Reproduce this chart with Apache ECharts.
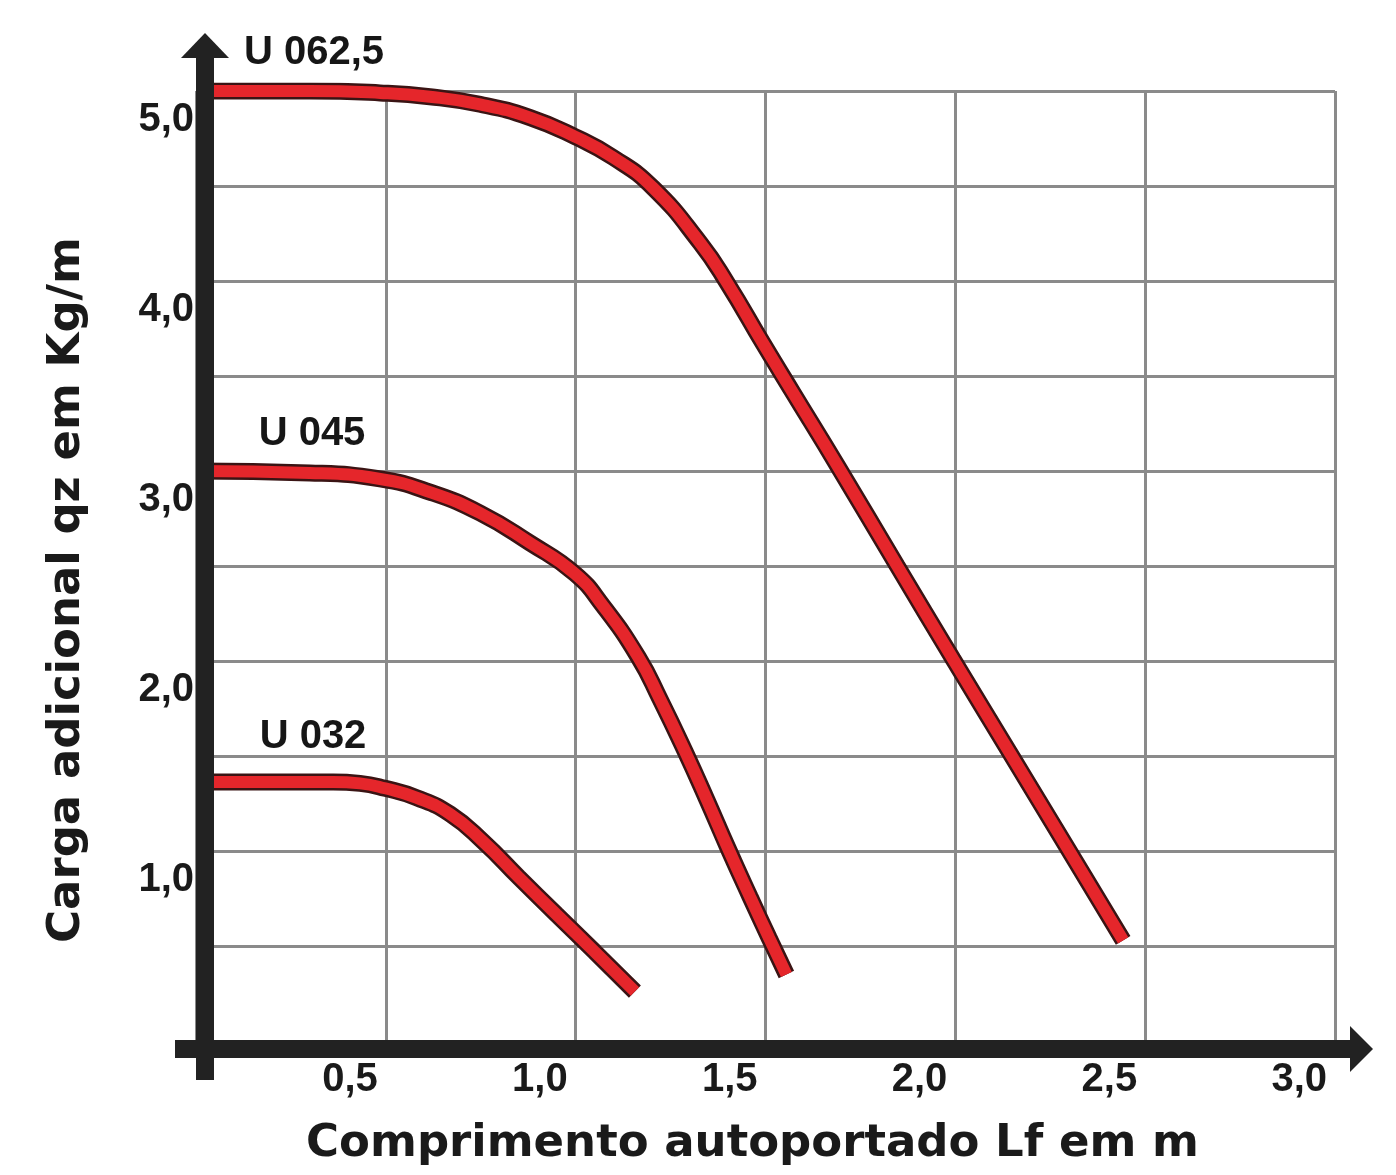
<!DOCTYPE html>
<html>
<head>
<meta charset="utf-8">
<style>
  html, body { margin: 0; padding: 0; background: #fff; }
  #chart { width: 1396px; height: 1175px; }
</style>
<script src="https://cdn.jsdelivr.net/npm/echarts/dist/echarts.min.js"></script>
</head>
<body>
<div id="chart"></div>
<script>
// curve names
var curveNames = ['U 062,5', 'U 045', 'U 032'];

// U 062,5 : Lf (m) / qz (Kg/m)
var u0625X = [0, 0.30, 0.485, 0.616, 0.748, 0.880, 0.998, 1.099, 1.204, 1.328, 1.399, 1.494, 1.573, 1.689, 1.847, 1.994, 2.144, 2.297, 2.442];
var u0625Y = [5.0, 5.0, 4.99, 4.97, 4.93, 4.86, 4.76, 4.65, 4.49, 4.20, 3.99, 3.67, 3.41, 3.03, 2.50, 2.01, 1.515, 1.01, 0.53];

// U 045
var u045X = [0, 0.30, 0.485, 0.616, 0.748, 0.880, 0.998, 1.072, 1.165, 1.222, 1.288, 1.346, 1.401, 1.459, 1.51, 1.555];
var u045Y = [3.0, 2.99, 2.958, 2.889, 2.779, 2.621, 2.46, 2.29, 2.02, 1.80, 1.525, 1.268, 1.016, 0.76, 0.54, 0.35];

// U 032
var u032X = [0, 0.361, 0.432, 0.498, 0.582, 0.669, 0.756, 0.85, 0.95, 1.05, 1.156];
var u032Y = [1.363, 1.363, 1.356, 1.33, 1.28, 1.195, 1.05, 0.862, 0.665, 0.47, 0.26];

// axis titles
var xTitle = 'Comprimento autoportado Lf em m';
var yTitle = 'Carga adicional qz em Kg/m';

function pairs(xs, ys) {
  return xs.map(function (x, i) { return [x, ys[i]]; });
}
function fmt(v) {
  return v.toFixed(1).replace('.', ',');
}

var curves = [
  { name: curveNames[0], xs: u0625X, ys: u0625Y, labelOffset: [118, -18] },
  { name: curveNames[1], xs: u045X, ys: u045Y, labelOffset: [116, -17] },
  { name: curveNames[2], xs: u032X, ys: u032Y, labelOffset: [117, -25] }
];

var series = [];
curves.forEach(function (c) {
  var d = pairs(c.xs, c.ys);
  // dark outline
  series.push({
    type: 'line', name: c.name + ' outline', data: d, symbol: 'none',
    smooth: 0.5, z: 2, silent: true,
    lineStyle: { color: '#3a1414', width: 17, cap: 'butt' }
  });
  // red body
  series.push({
    type: 'line', name: c.name, data: d, symbol: 'none',
    smooth: 0.5, z: 3,
    lineStyle: { color: '#e5262b', width: 12, cap: 'butt' },
    markPoint: {
      symbol: 'circle', symbolSize: 0,
      data: [{ coord: d[0] }],
      label: {
        show: true, position: 'top', distance: 0, offset: c.labelOffset,
        formatter: c.name, color: '#161616', fontSize: 40, lineHeight: 40,
        fontWeight: 'bold', fontFamily: 'Liberation Sans, Arial, sans-serif'
      }
    }
  });
});

var tickFont = 'Liberation Sans Narrow, Liberation Sans, Arial Narrow, sans-serif';
var titleFont = 'DejaVu Sans, Verdana, sans-serif';

var option = {
  backgroundColor: '#ffffff',
  animation: false,
  grid: { left: 196, right: 61, top: 91, bottom: 134, containLabel: false },
  xAxis: {
    type: 'value', min: 0, max: 3, interval: 0.5,
    name: xTitle, nameLocation: 'middle', nameGap: 81, nameMoveOverlap: false,
    nameTextStyle: { fontFamily: titleFont, fontWeight: 'bold', fontSize: 45, lineHeight: 45, color: '#1a1a1a', padding: [0, 26, 0, 0] },
    axisLine: { show: false }, axisTick: { show: false },
    splitLine: { show: true, lineStyle: { color: '#8a8a8a', width: 3 } },
    axisLabel: {
      showMinLabel: false, margin: 18, align: 'right', padding: [0, 8, 0, 0],
      fontFamily: tickFont, fontWeight: 'bold', fontSize: 40, lineHeight: 42, color: '#1a1a1a',
      formatter: function (v) { return v === 0 ? '' : fmt(v); }
    }
  },
  yAxis: {
    type: 'value', min: 0, max: 5, interval: 0.5,
    name: yTitle, nameLocation: 'middle', nameGap: 106, nameMoveOverlap: false,
    nameTextStyle: { fontFamily: titleFont, fontWeight: 'bold', fontSize: 45, lineHeight: 45, color: '#1a1a1a', padding: [0, 48, 0, 0] },
    axisLine: { show: false }, axisTick: { show: false },
    splitLine: { show: true, lineStyle: { color: '#8a8a8a', width: 3 } },
    axisLabel: {
      margin: 2, verticalAlign: 'top', padding: [8, 0, 0, 0],
      fontFamily: tickFont, fontWeight: 'bold', fontSize: 40, lineHeight: 42, color: '#1a1a1a',
      formatter: function (v) {
        return (v > 0 && Math.abs(v - Math.round(v)) < 1e-6) ? fmt(v) : '';
      }
    }
  },
  series: series
};

var chart = echarts.init(document.getElementById('chart'), null, { renderer: 'canvas' });
chart.setOption(option);

// heavy axes with arrow heads, placed from the grid's own scale
var o = chart.convertToPixel({ gridIndex: 0 }, [0, 0]);
var tr = chart.convertToPixel({ gridIndex: 0 }, [3, 5]);
var axisColor = '#222222';
var yCx = o[0] + 9, xCy = o[1] + 8;
chart.setOption({
  graphic: [
    { type: 'rect', z: 10, shape: { x: o[0], y: tr[1] - 34, width: 18, height: (o[1] + 39) - (tr[1] - 34) }, style: { fill: axisColor } },
    { type: 'polygon', z: 10, shape: { points: [[yCx - 24, tr[1] - 33], [yCx, tr[1] - 58], [yCx + 24, tr[1] - 33]] }, style: { fill: axisColor } },
    { type: 'rect', z: 10, shape: { x: o[0] - 21, y: o[1] - 1, width: (tr[0] + 16) - (o[0] - 21), height: 18 }, style: { fill: axisColor } },
    { type: 'polygon', z: 10, shape: { points: [[tr[0] + 15, xCy - 23], [tr[0] + 38, xCy], [tr[0] + 15, xCy + 23]] }, style: { fill: axisColor } }
  ]
});
</script>
</body>
</html>
